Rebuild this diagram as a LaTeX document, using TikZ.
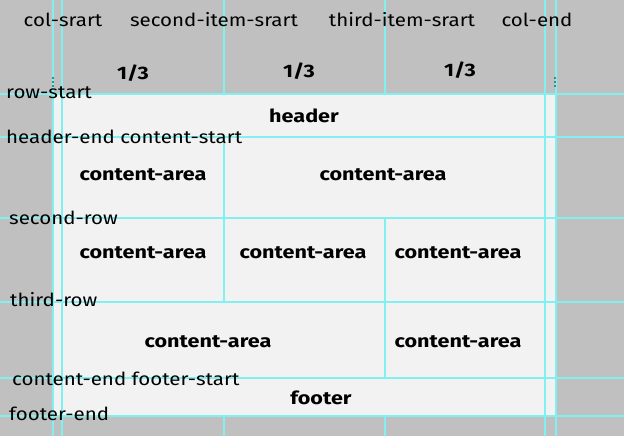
\documentclass[tikz,border=0pt]{standalone}
\usepackage{fontspec}
\setmainfont{Fira Sans}
\newfontfamily\linefont{Fira Sans}[FakeStretch=1.14]
\newfontfamily\areafont{Fira Sans}[FakeStretch=1.2]
\definecolor{bggray}{HTML}{C0C0C0}
\definecolor{cellgray}{HTML}{F2F2F2}
\definecolor{gridcyan}{HTML}{80F0F0}
\definecolor{markteal}{HTML}{3A8C8C}

\begin{document}
\begin{tikzpicture}[x=1pt, y=-1pt,
    gridline/.style={gridcyan, line width=2pt},
    linename/.style={font=\linefont\fontsize{18}{21}\selectfont, inner sep=0pt},
    areaname/.style={font=\areafont\fontsize{18}{21}\selectfont\bfseries, inner sep=0pt}]
    % Background and grid container
    \fill[bggray] (0,0) rectangle (624,436);
    \useasboundingbox (0,0) rectangle (624,436);
    \fill[cellgray] (53,94) rectangle (555,416);

    % Row lines
    \foreach \y in {94,137,218,302,378,416}
        \draw[gridline] (0,\y) -- (624,\y);
    % Column lines
    \foreach \x in {53,62,545,556}
        \draw[gridline] (\x,0) -- (\x,436);
    \foreach \x in {224,385}
        \draw[gridline] (\x,0) -- (\x,94) (\x,416) -- (\x,436);
    \draw[gridline] (224,137) -- (224,302);
    \draw[gridline] (385,218) -- (385,378);

    % Gap handles
    \draw[markteal, line width=1.5pt, dash pattern=on 2pt off 2pt] (53,77) -- (53,89);
    \draw[markteal, line width=1.5pt, dash pattern=on 2pt off 2pt] (555,77) -- (555,89);

    % Column line names
    \node[linename] (colstart) at (63,20) {col-srart};
    \node[linename] (secondstart) at (214,20) {second-item-srart};
    \node[linename] (thirdstart) at (402,20) {third-item-srart};
    \node[linename] (colend) at (537,20) {col-end};

    % Track sizes
    \node[areaname] (frac1) at (133,73) {1/3};
    \node[areaname] (frac2) at (299,71) {1/3};
    \node[areaname] (frac3) at (460,70) {1/3};

    % Row line names
    \node[linename, anchor=west] (rowstart) at (6,93) {row-start};
    \node[linename, anchor=west] (headerend) at (6,137) {header-end content-start};
    \node[linename, anchor=west] (secondrow) at (9,218) {second-row};
    \node[linename, anchor=west] (thirdrow) at (10,300) {third-row};
    \node[linename, anchor=west] (contentend) at (12,379) {content-end footer-start};
    \node[linename, anchor=west] (footerend) at (9,414) {footer-end};

    % Areas
    \node[areaname] (header) at (304,116) {header};
    \node[areaname] (areaA) at (143,175) {content-area};
    \node[areaname] (areaB) at (383,175) {content-area};
    \node[areaname] (areaC) at (143,253) {content-area};
    \node[areaname] (areaD) at (303,253) {content-area};
    \node[areaname] (areaE) at (458,253) {content-area};
    \node[areaname] (areaF) at (208,342) {content-area};
    \node[areaname] (areaG) at (458,342) {content-area};
    \node[areaname] (footer) at (321,398) {footer};
\end{tikzpicture}
\end{document}
